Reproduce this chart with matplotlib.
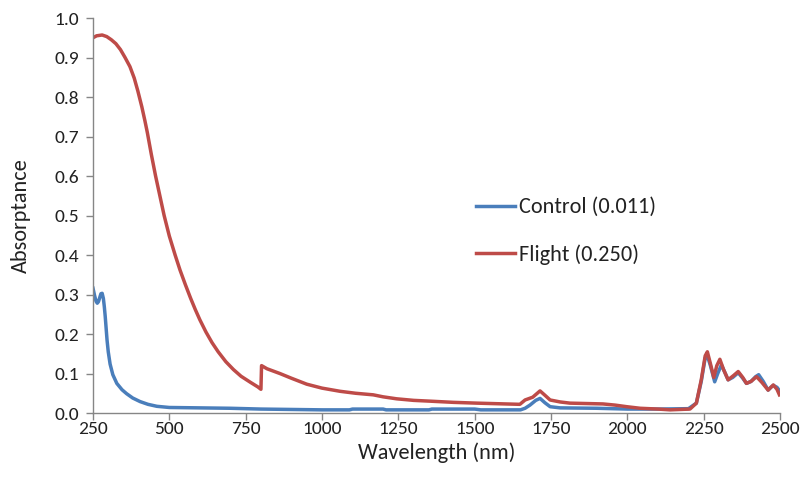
import matplotlib
matplotlib.use("Agg")
import matplotlib.pyplot as plt

plt.rcParams['font.family'] = ['Carlito', 'Lato', 'DejaVu Sans']

# Control sample spectrum
control_nm = [250, 255, 260, 264, 268, 272, 276, 280, 284, 287, 290, 293, 296, 300, 306,
              315, 328, 345, 360, 380, 404, 430, 459, 500, 600, 700, 800, 900, 1000, 1090,
              1100, 1200, 1210, 1350, 1360, 1500, 1520, 1650, 1665, 1681, 1700, 1714, 1730,
              1747, 1780, 1900, 2000, 2100, 2200, 2226, 2242, 2255, 2262, 2272, 2286, 2296,
              2308, 2318, 2330, 2345, 2363, 2378, 2390, 2405, 2420, 2430, 2445, 2461, 2470,
              2478, 2490, 2500]
control_abs = [0.316, 0.298, 0.283, 0.278, 0.282, 0.292, 0.302, 0.303, 0.29, 0.27, 0.245,
               0.215, 0.185, 0.155, 0.124, 0.097, 0.075, 0.059, 0.049, 0.038, 0.029, 0.022,
               0.017, 0.014, 0.013, 0.012, 0.01, 0.009, 0.008, 0.008, 0.01, 0.01, 0.008,
               0.008, 0.01, 0.01, 0.008, 0.008, 0.012, 0.02, 0.032, 0.037, 0.026, 0.016,
               0.013, 0.012, 0.01, 0.01, 0.011, 0.025, 0.08, 0.14, 0.145, 0.12, 0.079, 0.1,
               0.122, 0.105, 0.084, 0.09, 0.102, 0.088, 0.075, 0.08, 0.092, 0.097, 0.08,
               0.058, 0.065, 0.07, 0.065, 0.055]

# Flight sample spectrum
flight_nm = [250, 262, 280, 295, 310, 325, 340, 355, 371, 385, 397, 410, 420, 428, 441,
             455, 469, 483, 500, 519, 535, 553, 570, 585, 600, 620, 640, 660, 685, 710, 735,
             765, 790, 800, 802, 820, 862, 900, 950, 1000, 1059, 1110, 1168, 1200, 1244,
             1300, 1354, 1430, 1507, 1600, 1648, 1665, 1690, 1714, 1730, 1747, 1780, 1812,
             1920, 1960, 1998, 2042, 2100, 2140, 2205, 2226, 2242, 2255, 2262, 2272, 2283,
             2293, 2303, 2315, 2330, 2348, 2363, 2378, 2390, 2405, 2423, 2440, 2461, 2478,
             2490, 2498]
flight_abs = [0.95, 0.955, 0.957, 0.953, 0.945, 0.935, 0.92, 0.9, 0.877, 0.848, 0.815,
              0.775, 0.74, 0.71, 0.655, 0.6, 0.55, 0.5, 0.448, 0.4, 0.362, 0.324, 0.29,
              0.262, 0.236, 0.205, 0.178, 0.155, 0.13, 0.11, 0.093, 0.078, 0.066, 0.06, 0.12,
              0.112, 0.1, 0.088, 0.073, 0.063, 0.055, 0.05, 0.046, 0.041, 0.036, 0.032, 0.03,
              0.027, 0.025, 0.023, 0.022, 0.033, 0.04, 0.056, 0.045, 0.033, 0.028, 0.025,
              0.023, 0.02, 0.016, 0.012, 0.01, 0.008, 0.01, 0.025, 0.084, 0.145, 0.155,
              0.125, 0.09, 0.12, 0.136, 0.11, 0.084, 0.095, 0.105, 0.09, 0.075, 0.08, 0.092,
              0.078, 0.058, 0.071, 0.06, 0.046]

labels = ["Control (0.011)", "Flight (0.250)"]
x_ticks = [250, 500, 750, 1000, 1250, 1500, 1750, 2000, 2250, 2500]
y_ticks = [0.0, 0.1, 0.2, 0.3, 0.4, 0.5, 0.6, 0.7, 0.8, 0.9, 1.0]

fig = plt.figure(figsize=(8.03, 4.83), dpi=100)
ax = fig.add_axes([0.1158, 0.1449, 0.8556, 0.8178])

ax.plot(control_nm, control_abs, color='#4A7EBB', lw=2.5, label=labels[0],
        solid_joinstyle='round')
ax.plot(flight_nm, flight_abs, color='#BE4B48', lw=2.5, label=labels[1],
        solid_joinstyle='round')

ax.set_xlim(250, 2500)
ax.set_ylim(0, 1.0)
ax.set_xticks(x_ticks)
ax.set_yticks(y_ticks)
ax.set_yticklabels([f"{v:.1f}" for v in y_ticks])

for side in ('top', 'right'):
    ax.spines[side].set_visible(False)
for side in ('left', 'bottom'):
    ax.spines[side].set_color('#868686')
    ax.spines[side].set_linewidth(1.0)

ax.tick_params(axis='both', direction='out', length=5, width=1.0, color='#868686',
               labelsize=14, labelcolor='#222222')
ax.tick_params(axis='x', pad=1)
ax.tick_params(axis='y', pad=5)

ax.set_xlabel("Wavelength (nm)", fontsize=16, color='#222222', labelpad=4)
ax.set_ylabel("Absorptance", fontsize=16, color='#222222', labelpad=17)

leg = ax.legend(loc='center left', bbox_to_anchor=(0.545, 0.461), frameon=False,
                fontsize=16, handlelength=1.75, handletextpad=0.15, labelspacing=1.2,
                borderaxespad=0)
for t in leg.get_texts():
    t.set_color('#222222')

fig.savefig("out.png", dpi=100)
